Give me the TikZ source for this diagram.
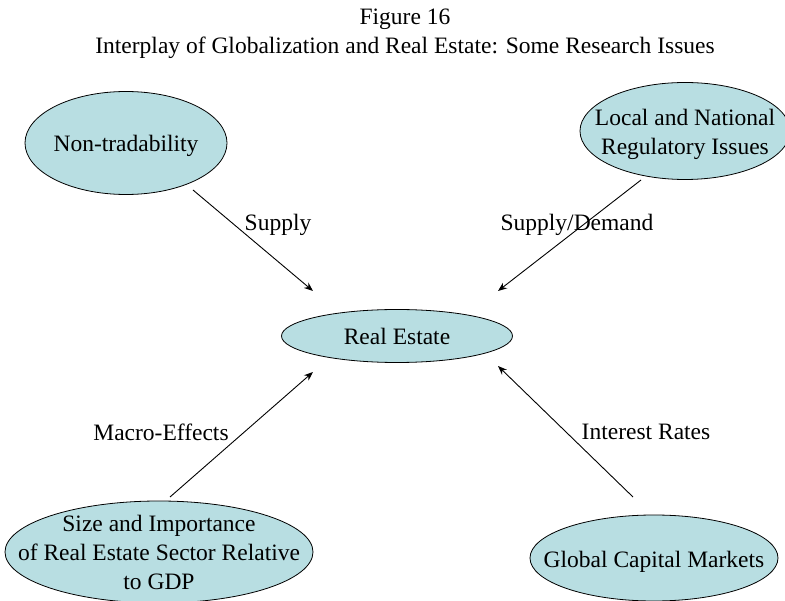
\documentclass[tikz,border=0pt]{standalone}
\usepackage{fontspec}
\setmainfont{Liberation Serif}
\usetikzlibrary{shapes.geometric,arrows.meta}
\definecolor{ellfill}{RGB}{184,222,226}
\begin{document}
\begin{tikzpicture}[x=1pt,y=-1pt,
  ell/.style={ellipse,draw=black,line width=0.8pt,fill=ellfill,inner sep=0pt},
  etext/.style={align=center,inner sep=0pt,font=\fontsize{23.5}{29}\selectfont},
  lbl/.style={font=\fontsize{23.5}{28}\selectfont,inner sep=0pt},
  conn/.style={line width=0.9pt,-{Stealth[length=9pt,width=7pt]}}]
\useasboundingbox (0,0) rectangle (785,601);
\node[lbl] (t1) at (405,19) {Figure 16};
\node[lbl] (t2) at (405,48) {Interplay of Globalization and Real Estate: Some Research Issues};
\node[ell,minimum width=202pt,minimum height=103pt] (nt) at (126,143) {};
\node[etext,yshift=-3pt] (ntt) at (nt) {Non-tradability};
\node[ell,minimum width=210pt,minimum height=97pt] (ln) at (685,131) {};
\node[etext,yshift=-3pt] (lnt) at (ln) {Local and National\\Regulatory Issues};
\node[ell,minimum width=231pt,minimum height=53pt] (re) at (397,336) {};
\node[etext] (ret) at (re) {Real Estate};
\node[ell,minimum width=308pt,minimum height=102pt] (sz) at (159,552) {};
\node[etext] (szt) at (sz) {Size and Importance\\of Real Estate Sector Relative\\to GDP};
\node[ell,minimum width=248pt,minimum height=86pt] (gc) at (654,558) {};
\node[etext,yshift=-4pt] (gct) at (gc) {Global Capital Markets};
\coordinate (a1s) at (193,190); \coordinate (a1e) at (313,291);
\coordinate (a2s) at (641,180); \coordinate (a2e) at (498,291);
\coordinate (a3s) at (170,497); \coordinate (a3e) at (313,372);
\coordinate (a4s) at (633,497); \coordinate (a4e) at (498,366);
\draw[conn] (a1s) -- (a1e);
\draw[conn] (a2s) -- (a2e);
\draw[conn] (a3s) -- (a3e);
\draw[conn] (a4s) -- (a4e);
\node[lbl] (l1) at (278,225) {Supply};
\node[lbl] (l2) at (577,225) {Supply/Demand};
\node[lbl] (l3) at (161,432) {Macro-Effects};
\node[lbl] (l4) at (646,432) {Interest Rates};
\end{tikzpicture}
\end{document}
